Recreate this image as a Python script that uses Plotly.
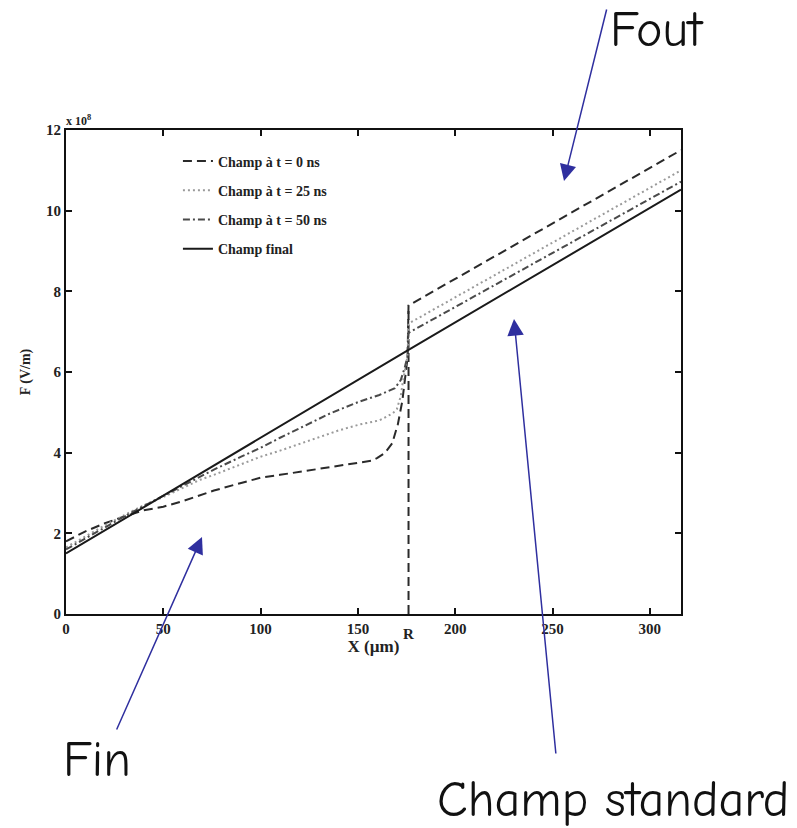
import plotly.graph_objects as go

# ---------------- data (F in units of 1e8 V/m, X in µm) ----------------
R_pos = 176.0

x_t0_in = [0, 10, 20, 30, 40, 50, 60, 76, 90, 100, 110, 125, 140, 150, 157, 160, 164, 167.6, 170.5, 172.8, 174.3, 175.5]
F_t0_in = [1.8, 2.05, 2.25, 2.42, 2.57, 2.66, 2.8, 3.06, 3.25, 3.38, 3.45, 3.56, 3.66, 3.74, 3.8, 3.87, 4.0, 4.23, 4.7, 5.28, 5.9, 6.35]
x_t0_out = [176, 316]
F_t0_out = [7.65, 11.5]

x_t25_in = [0, 10, 20, 30, 40, 50, 60, 69, 76, 90, 100, 110, 125, 136, 140, 151, 161, 165, 168, 170, 172, 173, 174.5, 175.5]
F_t25_in = [1.65, 1.93, 2.2, 2.45, 2.7, 2.9, 3.12, 3.33, 3.45, 3.72, 3.9, 4.05, 4.3, 4.49, 4.55, 4.7, 4.8, 4.9, 4.98, 5.08, 5.4, 5.73, 6.1, 6.4]
x_t25_out = [176, 316]
F_t25_out = [7.2, 11.0]

x_t50_in = [0, 10, 20, 30, 40, 50, 60, 76, 90, 100, 110, 125, 136, 151, 161, 169, 172, 174, 175.5]
F_t50_in = [1.6, 1.88, 2.15, 2.42, 2.68, 2.93, 3.18, 3.58, 3.9, 4.12, 4.37, 4.72, 4.98, 5.27, 5.43, 5.6, 5.8, 6.1, 6.4]
x_t50_out = [176, 316]
F_t50_out = [6.97, 10.72]

x_final = [0, 176, 316]
F_final = [1.5, 6.55, 10.52]

R_line_x = [R_pos, R_pos]
R_line_y = [0, 7.65]

x_ticks = [0, 50, 100, 150, 200, 250, 300]
y_ticks = [0, 2, 4, 6, 8, 10, 12]

series_names = ["Champ à t = 0 ns", "Champ à t = 25 ns", "Champ à t = 50 ns", "Champ final"]

# ---------------- figure ----------------
W, H = 797, 828
L, T, Rm, B = 66, 130, 797 - 681, 828 - 614
PW, PH = W - L - Rm, H - T - B

def paper(px, py):
    return (px - L) / PW, (H - B - py) / PH

serif = "Liberation Serif"
fig = go.Figure()

def joined(xi, yi, xo, yo):
    return xi + xo, yi + yo

xs, ys = joined(x_t0_in, F_t0_in, x_t0_out, F_t0_out)
fig.add_trace(go.Scatter(x=xs, y=ys, mode="lines", name=series_names[0], legendgroup="a",
                         line=dict(color="#2a2a2a", dash="9px,5px", width=2)))
fig.add_trace(go.Scatter(x=R_line_x, y=R_line_y, mode="lines", showlegend=False, legendgroup="a",
                         line=dict(color="#2a2a2a", dash="9px,5px", width=2)))
xs, ys = joined(x_t25_in, F_t25_in, x_t25_out, F_t25_out)
fig.add_trace(go.Scatter(x=xs, y=ys, mode="lines", name=series_names[1], legendgroup="b",
                         line=dict(color="#9a9a9a", dash="2px,3px", width=2)))
xs, ys = joined(x_t50_in, F_t50_in, x_t50_out, F_t50_out)
fig.add_trace(go.Scatter(x=xs, y=ys, mode="lines", name=series_names[2], legendgroup="c",
                         line=dict(color="#4a4a4a", dash="7px,3px,2px,3px", width=2)))
fig.add_trace(go.Scatter(x=x_final, y=F_final, mode="lines", name=series_names[3], legendgroup="d",
                         line=dict(color="#1a1a1a", width=2)))

axis_common = dict(showline=True, linecolor="#111", linewidth=2, mirror="ticks",
                   ticks="inside", ticklen=6, tickwidth=1.5, tickcolor="#111",
                   showgrid=False, zeroline=False,
                   tickfont=dict(family=serif, size=15, color="#222", weight="bold"))

fig.update_xaxes(range=[0, 316], tickvals=x_ticks, **axis_common,
                 title=dict(text="X (µm)", font=dict(family=serif, size=17, color="#222", weight="bold"), standoff=2))
fig.update_yaxes(range=[0, 12], tickvals=y_ticks, **axis_common,
                 title=dict(text="F (V/m)", font=dict(family=serif, size=14, color="#222", weight="bold"), standoff=12))

annos = []
annos.append(dict(x=0, y=1, xref="paper", yref="paper", xanchor="left", yanchor="bottom",
                  text="x 10<sup>8</sup>", showarrow=False, xshift=-2,
                  font=dict(family=serif, size=12, color="#222", weight="bold")))
annos.append(dict(x=R_pos, y=0, xref="x", yref="y", yanchor="top", text="R", showarrow=False,
                  yshift=-10, font=dict(family=serif, size=15, color="#222", weight="bold")))

blue = "#2f2f9f"
big = dict(family="Comic Neue, Comic Sans MS, DejaVu Sans", size=50, color="#111")
for txt, (px, py) in [("Fout", (657, 30)), ("Fin", (97, 760)), ("Champ standard", (613, 800))]:
    x, y = paper(px, py)
    annos.append(dict(x=x, y=y, xref="paper", yref="paper", text=txt, showarrow=False,
                      xanchor="center", yanchor="middle", font=big))

for (tipx, tipy), (tailx, taily) in [((564, 181), (607, 8)), ((202, 537), (116, 731)), ((514, 319), (556, 755))]:
    x, y = paper(tipx, tipy)
    annos.append(dict(x=x, y=y, xref="paper", yref="paper", ax=tailx - tipx, ay=taily - tipy,
                      text="", showarrow=True, arrowhead=2, arrowsize=2.2, arrowwidth=1.5,
                      arrowcolor=blue, standoff=0))

fig.update_layout(
    width=W, height=H, margin=dict(l=L, r=Rm, t=T, b=B),
    plot_bgcolor="white", paper_bgcolor="white",
    annotations=annos,
    legend=dict(x=0.182, y=0.968, xanchor="left", yanchor="top", bgcolor="rgba(0,0,0,0)",
                traceorder="grouped", tracegroupgap=8,
                font=dict(family=serif, size=14, color="#222", weight="bold")),
)

fig.write_html("out.html")
